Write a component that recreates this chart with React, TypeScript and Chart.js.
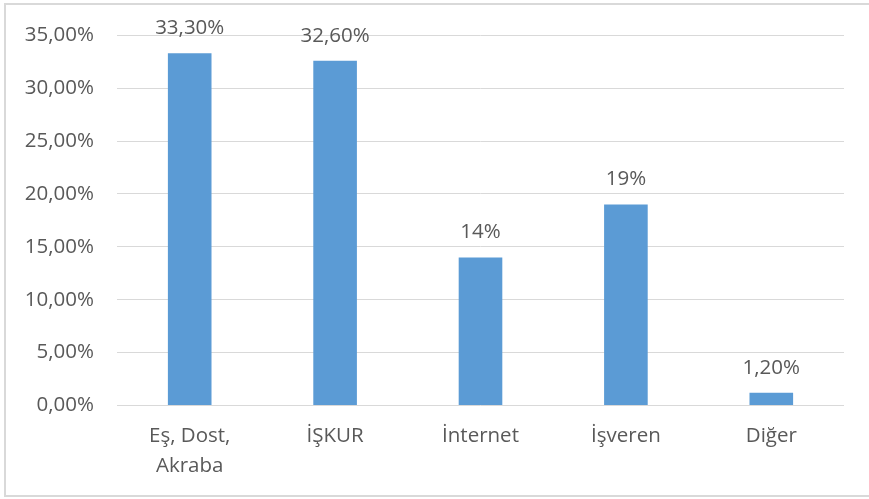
import React, { useEffect, useRef } from "react";
import { Chart, registerables } from "chart.js";

Chart.register(...registerables);

const categories: (string | string[])[] = [["Eş, Dost,", "Akraba"], "İŞKUR", "İnternet", "İşveren", "Diğer"];
const values: number[] = [33.3, 32.6, 14, 19, 1.2];
const valueLabels: string[] = ["33,30%", "32,60%", "14%", "19%", "1,20%"];
const yTicks: number[] = [0, 5, 10, 15, 20, 25, 30, 35];

const FONT = "'Open Sans', sans-serif";
const TEXT = "#595959";
const SIZE = 20.5;

export default function App() {
  const ref = useRef<HTMLCanvasElement | null>(null);
  useEffect(() => {
    const canvas = ref.current!;
    const framePlugin = {
      id: "frame",
      beforeDraw(chart: any) {
        const ctx = chart.ctx;
        ctx.save();
        ctx.fillStyle = "#ffffff";
        ctx.fillRect(0, 0, chart.width, chart.height);
        ctx.fillStyle = "#d9d9d9";
        ctx.fillRect(4, 3, 865, 2);
        ctx.fillRect(4, 3, 2, 494);
        ctx.fillRect(4, 495, 865, 2);
        ctx.restore();
      },
    };
    const labelPlugin = {
      id: "valueLabels",
      afterDatasetsDraw(chart: any) {
        const ctx = chart.ctx;
        const meta = chart.getDatasetMeta(0);
        ctx.save();
        ctx.font = `${SIZE}px ${FONT}`;
        ctx.fillStyle = TEXT;
        ctx.textAlign = "center";
        ctx.textBaseline = "middle";
        meta.data.forEach((bar: any, i: number) => {
          ctx.fillText(valueLabels[i], bar.x, bar.y - 25);
        });
        ctx.restore();
      },
    };
    const chart = new Chart(canvas, {
      type: "bar",
      data: {
        labels: categories,
        datasets: [
          {
            data: values,
            backgroundColor: "#5B9BD5",
            borderWidth: 0,
            categoryPercentage: 1,
            barPercentage: 0.3,
          },
        ],
      },
      options: {
        responsive: false,
        animation: false,
        layout: { padding: { top: 32, right: 25, left: 0, bottom: 0 } },
        plugins: { legend: { display: false }, tooltip: { enabled: false } },
        scales: {
          x: {
            grid: { display: false },
            border: { display: false },
            ticks: {
              color: TEXT,
              font: { family: FONT, size: SIZE, lineHeight: 30 / SIZE },
              padding: 8,
              maxRotation: 0,
              autoSkip: false,
            },
            afterFit(scale: any) {
              scale.height = 93.5;
            },
          },
          y: {
            min: 0,
            max: 35,
            afterBuildTicks(scale: any) {
              scale.ticks = yTicks.map((v) => ({ value: v }));
            },
            grid: { color: "#d9d9d9", lineWidth: 1, drawTicks: false },
            border: { display: false },
            ticks: {
              color: TEXT,
              font: { family: FONT, size: SIZE },
              padding: 23,
              callback: (v: any) => Number(v).toFixed(2).replace(".", ",") + "%",
            },
            afterFit(scale: any) {
              scale.width = 117;
            },
          },
        },
      },
      plugins: [framePlugin, labelPlugin],
    });
    return () => chart.destroy();
  }, []);
  return (
    <div style={{ position: "fixed", left: 0, top: 0, width: 869, height: 499 }}>
      <canvas ref={ref} width={869} height={499} style={{ display: "block" }} />
    </div>
  );
}
